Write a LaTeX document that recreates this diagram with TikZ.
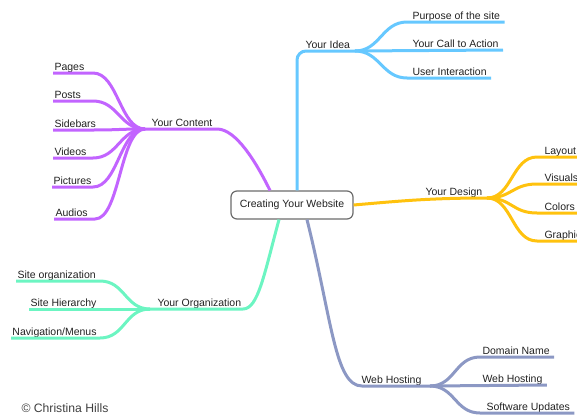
\documentclass[tikz,border=0pt]{standalone}
\usepackage{fontspec}
\setmainfont{Liberation Sans}

\definecolor{ideablue}{HTML}{66C8FF}
\definecolor{contentpurple}{HTML}{C264FF}
\definecolor{designgold}{HTML}{FFC20E}
\definecolor{orgmint}{HTML}{6CF5C2}
\definecolor{hostslate}{HTML}{8C98C4}
\definecolor{textdark}{HTML}{222222}

\begin{document}
\begin{tikzpicture}[x=1pt,y=-1pt,line width=3pt,
    lbl/.style={inner sep=0pt,anchor=base west,text=textdark,font=\fontsize{10.5}{12}\selectfont},
    idea/.style={draw=ideablue},
    content/.style={draw=contentpurple},
    design/.style={draw=designgold},
    org/.style={draw=orgmint},
    host/.style={draw=hostslate}]
    \useasboundingbox (0,0) rectangle (577,415);

    % 中心
    \node[draw=gray!85!black,line width=1.2pt,rounded corners=6pt,fill=white,
          minimum width=122pt,minimum height=28pt,inner sep=0pt,text=textdark,
          font=\fontsize{10.5}{12}\selectfont] (center) at (292,205) {Creating Your Website};

    % Your Idea
    \coordinate (ideaP) at (355,51);
    \node[lbl] (idea) at (304,48) {Your Idea};
    \node[lbl] (purpose) at (411,19) {Purpose of the site};
    \node[lbl] (action) at (411,47) {Your Call to Action};
    \node[lbl] (interact) at (411,75) {User Interaction};
    \draw[idea,rounded corners=9pt] ([xshift=5pt]center.north) -- (297,51) -- (ideaP);
    \draw[idea] (ideaP) .. controls +(25,0) and +(-25,0) .. (407,22) -- ([shift={(3pt,-3pt)}]purpose.base east);
    \draw[idea] (ideaP) -- ([shift={(3pt,-3pt)}]action.base east);
    \draw[idea] (ideaP) .. controls +(25,0) and +(-25,0) .. (407,78) -- ([shift={(3pt,-3pt)}]interact.base east);

    % Your Content
    \coordinate (contP) at (145,129);
    \node[lbl] (content) at (150,126) {Your Content};
    \node[lbl] (pages) at (53,70) {Pages};
    \node[lbl] (posts) at (53,98) {Posts};
    \node[lbl] (sidebars) at (53,127) {Sidebars};
    \node[lbl] (videos) at (53,155) {Videos};
    \node[lbl] (pictures) at (52,184) {Pictures};
    \node[lbl] (audios) at (54,216) {Audios};
    \draw[content] ([xshift=-22pt]center.north) .. controls (256,162) and (236,129) .. (217,129) -- (contP);
    \draw[content] (contP) .. controls +(-25,0) and +(25,0) .. (93,73) -- ([yshift=-3pt]pages.base west);
    \draw[content] (contP) .. controls +(-25,0) and +(25,0) .. (93,101) -- ([yshift=-3pt]posts.base west);
    \draw[content] (contP) .. controls +(-25,0) and +(25,0) .. (93,130) -- ([yshift=-3pt]sidebars.base west);
    \draw[content] (contP) .. controls +(-25,0) and +(25,0) .. (93,158) -- ([yshift=-3pt]videos.base west);
    \draw[content] (contP) .. controls +(-25,0) and +(25,0) .. (93,187) -- ([yshift=-3pt]pictures.base west);
    \draw[content] (contP) .. controls +(-25,0) and +(25,0) .. (95,219) -- ([yshift=-3pt]audios.base west);

    % Your Design
    \coordinate (desP) at (487,198);
    \node[lbl] (design) at (424,195) {Your Design};
    \node[lbl] (layout) at (543,154) {Layout};
    \node[lbl] (visuals) at (543,181) {Visuals};
    \node[lbl] (colors) at (543,210) {Colors};
    \node[lbl] (graphics) at (543,238) {Graphics};
    \draw[design] (center.east) .. controls (400,201) and (430,198) .. (desP);
    \draw[design] (desP) .. controls +(25,0) and +(-25,0) .. (537,157) -- ([yshift=-3pt]layout.base east) -- +(20,0);
    \draw[design] (desP) .. controls +(25,0) and +(-25,0) .. (537,184) -- ([yshift=-3pt]visuals.base east) -- +(20,0);
    \draw[design] (desP) .. controls +(25,0) and +(-25,0) .. (537,213) -- ([yshift=-3pt]colors.base east) -- +(20,0);
    \draw[design] (desP) .. controls +(25,0) and +(-25,0) .. (537,241) -- ([yshift=-3pt]graphics.base east);

    % Your Organization
    \coordinate (orgP) at (150,309);
    \node[lbl] (organization) at (156,306) {Your Organization};
    \node[lbl] (siteorg) at (16,278) {Site organization};
    \node[lbl] (hierarchy) at (29,306) {Site Hierarchy};
    \node[lbl] (navigation) at (11,335) {Navigation/Menus};
    \draw[org] ([xshift=-13pt]center.south) .. controls (264,275) and (258,309) .. (243,309) -- (orgP);
    \draw[org] (orgP) .. controls +(-25,0) and +(25,0) .. (100,281) -- ([yshift=-3pt]siteorg.base west);
    \draw[org] (orgP) -- ([yshift=-3pt]hierarchy.base west);
    \draw[org] (orgP) .. controls +(-25,0) and +(25,0) .. (100,338) -- ([yshift=-3pt]navigation.base west);

    % Web Hosting
    \coordinate (hostP) at (430,386);
    \node[lbl] (hosting) at (360,383) {Web Hosting};
    \node[lbl] (domain) at (481,354) {Domain Name};
    \node[lbl] (webhost) at (481,382) {Web Hosting};
    \node[lbl] (updates) at (485,410) {Software Updates};
    \draw[host] ([xshift=15pt]center.south) .. controls (332,320) and (335,386) .. (362,386) -- (hostP);
    \draw[host] (hostP) .. controls +(25,0) and +(-25,0) .. (480,357) -- ([shift={(3pt,-3pt)}]domain.base east);
    \draw[host] (hostP) -- ([shift={(3pt,-3pt)}]webhost.base east);
    \draw[host] (hostP) .. controls +(25,0) and +(-25,0) .. (480,413) -- ([shift={(3pt,-3pt)}]updates.base east);

    % 版权
    \node[lbl,text=black!75,font=\fontsize{12.2}{14}\selectfont] (copyright) at (20,412.5) {\textcopyright{} Christina Hills};
\end{tikzpicture}
\end{document}
